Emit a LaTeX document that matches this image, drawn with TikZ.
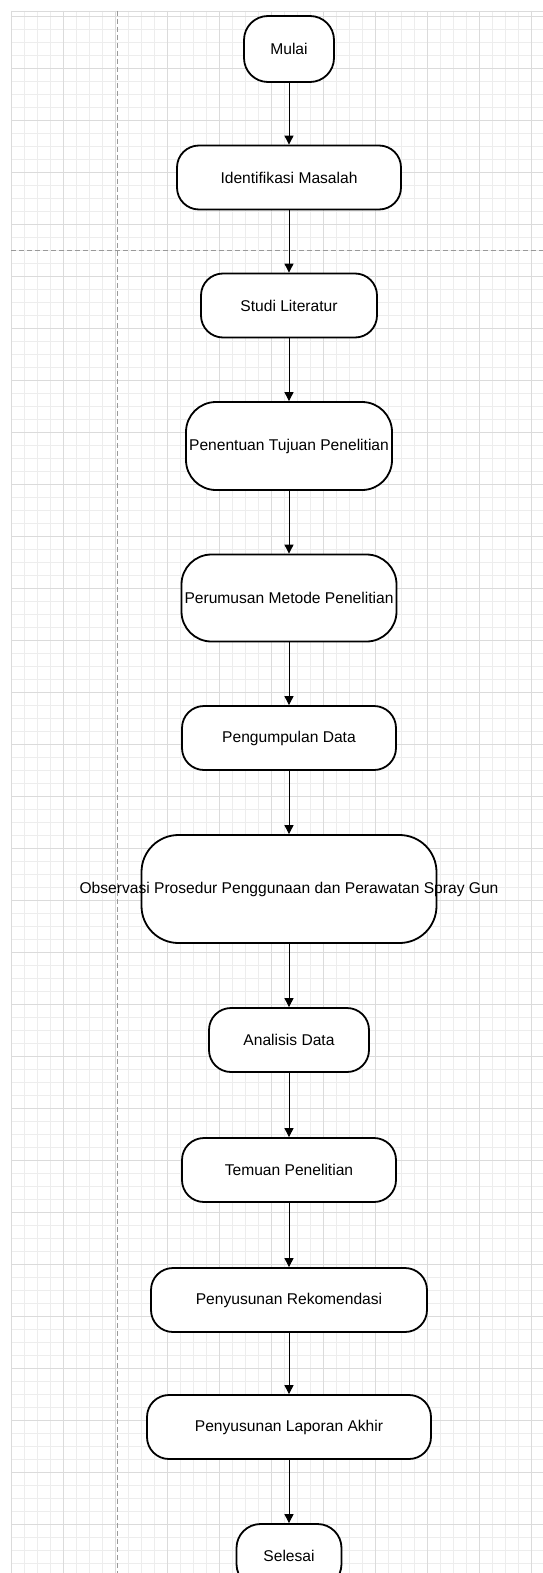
\documentclass[tikz,border=0pt]{standalone}
\usepackage{fontspec}
\setmainfont{Liberation Sans}
\usetikzlibrary{arrows.meta}

\begin{document}
\begin{tikzpicture}[x=1pt, y=-1pt,
    stepbox/.style={draw, line width=1.8pt, rounded corners=#1, fill=white,
      inner sep=0pt, font=\fontsize{15.6}{18}\selectfont},
    flow/.style={->, line width=0.9pt},
    >={Triangle[width=9pt,length=9pt]}]
    % Page and background grid
    \useasboundingbox (0,0) rectangle (543,1573);
    \clip (0,0) rectangle (543,1573);
    \fill[white] (0,0) rectangle (543,1573);
    \foreach \x in {11,24,...,543}
      \draw[black!7, line width=0.8pt] (\x,11) -- (\x,1573);
    \foreach \y in {16.3,29.3,...,1573}
      \draw[black!7, line width=0.8pt] (11,\y) -- (543,\y);
    \foreach \x in {11,63,...,543}
      \draw[black!14, line width=0.9pt] (\x,11) -- (\x,1573);
    \foreach \y in {16.3,68.3,...,1573}
      \draw[black!14, line width=0.9pt] (11,\y) -- (543,\y);
    \draw[black!14, line width=0.9pt] (11,11) -- (543,11);

    % Page breaks
    \draw[black!40, dash pattern=on 5pt off 3pt, line width=1pt] (117,11) -- (117,1573);
    \draw[black!40, dash pattern=on 5pt off 3pt, line width=1pt] (11,250) -- (543,250);

    % Steps of the research flow
    \node[stepbox=24, minimum width=90pt, minimum height=66pt] (mulai) at (289,49) {Mulai};
    \node[stepbox=22, minimum width=224pt, minimum height=64pt] (identifikasi) at (289,177.5) {Identifikasi Masalah};
    \node[stepbox=22, minimum width=176pt, minimum height=64pt] (studi) at (289,305.5) {Studi Literatur};
    \node[stepbox=30, minimum width=206pt, minimum height=88pt] (tujuan) at (289,446) {Penentuan Tujuan Penelitian};
    \node[stepbox=30, minimum width=215pt, minimum height=87pt] (metode) at (289,598) {Perumusan Metode Penelitian};
    \node[stepbox=22, minimum width=214pt, minimum height=64pt] (pengumpulan) at (289,738) {Pengumpulan Data};
    \node[stepbox=37, minimum width=295pt, minimum height=108pt] (observasi) at (289,889)
      {\makebox[0pt]{Observasi Prosedur Penggunaan dan Perawatan Spray Gun}};
    \node[stepbox=22, minimum width=160pt, minimum height=64pt] (analisis) at (289,1040) {Analisis Data};
    \node[stepbox=22, minimum width=214pt, minimum height=64pt] (temuan) at (289,1170) {Temuan Penelitian};
    \node[stepbox=22, minimum width=276pt, minimum height=64pt] (rekomendasi) at (289,1300) {Penyusunan Rekomendasi};
    \node[stepbox=22, minimum width=284pt, minimum height=64pt] (laporan) at (289,1427) {Penyusunan Laporan Akhir};
    \node[stepbox=24, minimum width=105pt, minimum height=64pt] (selesai) at (289,1556) {Selesai};

    % Connectors
    \draw[flow] (mulai) -- (identifikasi);
    \draw[flow] (identifikasi) -- (studi);
    \draw[flow] (studi) -- (tujuan);
    \draw[flow] (tujuan) -- (metode);
    \draw[flow] (metode) -- (pengumpulan);
    \draw[flow] (pengumpulan) -- (observasi);
    \draw[flow] (observasi) -- (analisis);
    \draw[flow] (analisis) -- (temuan);
    \draw[flow] (temuan) -- (rekomendasi);
    \draw[flow] (rekomendasi) -- (laporan);
    \draw[flow] (laporan) -- (selesai);
  \end{tikzpicture}
\end{document}
